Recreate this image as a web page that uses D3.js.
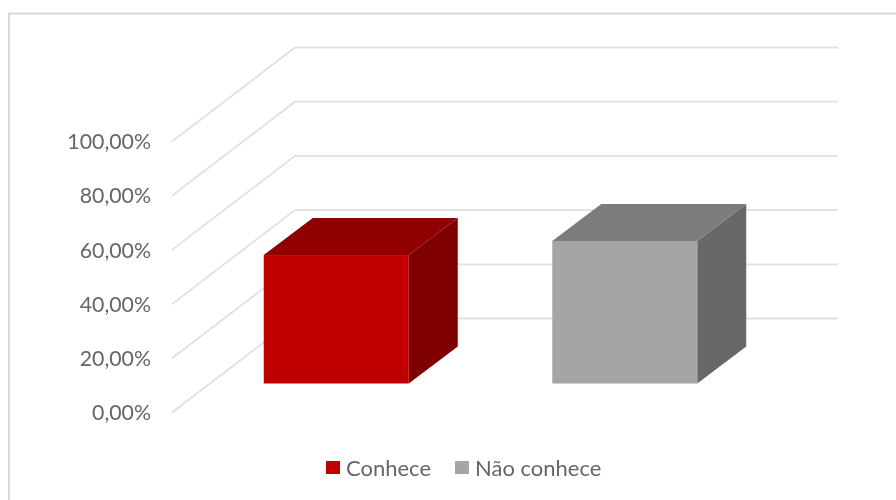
<!DOCTYPE html>
<html><head><meta charset="utf-8">
<script src="https://cdn.jsdelivr.net/npm/d3@7"></script>
<style>html,body{margin:0;padding:0;background:#fff}svg{display:block;filter:blur(0.35px)}</style>
</head><body><svg id="c" width="896" height="500"></svg>
<script>
const categories = ["Conhece", "Não conhece"];
const values = [47.4, 52.6];
const ticks = [0, 20, 40, 60, 80, 100];
const tickLabels = ["0,00%", "20,00%", "40,00%", "60,00%", "80,00%", "100,00%"];
const frontColors = ["#c00000", "#a5a5a5"];
const topColors = ["#900000", "#7c7c7c"];
const sideColors = ["#7f0000", "#686868"];

const svg = d3.select("#c");
const font = "Lato, 'Open Sans', sans-serif";
const textColor = "#666666";

svg.append("rect").attr("x", 9).attr("y", 13.5).attr("width", 900).attr("height", 500)
  .attr("fill", "#fff").attr("stroke", "#d9d9d9").attr("stroke-width", 2);

const y = d3.scaleLinear().domain([0, 100]).range([412.5, 141.5]);
const wallDx = 123, wallDy = -94, wallEnd = 838, wallLeft = 172;

svg.append("g").selectAll("path").data(ticks).join("path")
  .attr("fill", "none").attr("stroke", "#e0e0e0").attr("stroke-width", 1.8)
  .attr("d", d => `M${wallLeft},${y(d)}L${wallLeft + wallDx},${y(d) + wallDy}L${wallEnd},${y(d) + wallDy}`);

const axis = d3.axisLeft(y).tickValues(ticks).tickFormat((d, i) => tickLabels[i]).tickSize(0).tickPadding(0);
const ax = svg.append("g").attr("transform", "translate(151,-0.4)").call(axis);
ax.select(".domain").remove();
ax.selectAll("text").attr("font-family", font).attr("font-size", 21.3).attr("fill", textColor).attr("dy", "0.36em");

const x = d3.scaleBand().domain(categories).range([192, 769]);
const baseY = 383.5, dx = 49, dy = -37;
const h = d => y(0) - y(d);
const bars = svg.append("g").selectAll("g").data(categories).join("g");
const bw = 145;
const xL = c => x(c) + (x.bandwidth() - bw) / 2;

bars.append("path").attr("fill", (c, i) => sideColors[i])
  .attr("d", (c, i) => { const r = xL(c) + bw, t = baseY - h(values[i]);
    return `M${r},${baseY}L${r + dx},${baseY + dy}L${r + dx},${t + dy}L${r},${t}Z`; });
bars.append("path").attr("fill", (c, i) => topColors[i])
  .attr("d", (c, i) => { const l = xL(c), t = baseY - h(values[i]);
    return `M${l},${t}L${l + dx},${t + dy}L${l + bw + dx},${t + dy}L${l + bw},${t}Z`; });
bars.append("rect").attr("fill", (c, i) => frontColors[i])
  .attr("x", c => xL(c)).attr("width", bw)
  .attr("y", (c, i) => baseY - h(values[i])).attr("height", (c, i) => h(values[i]));

const legendX = [326, 455];
const legend = svg.append("g").selectAll("g").data(categories).join("g")
  .attr("transform", (c, i) => `translate(${legendX[i]},461)`);
legend.append("rect").attr("width", 14).attr("height", 13).attr("fill", (c, i) => frontColors[i]);
legend.append("text").attr("x", 20).attr("y", 6.8).attr("dy", "0.36em")
  .attr("font-family", font).attr("font-size", 22).attr("fill", textColor).text(c => c);
</script></body></html>
